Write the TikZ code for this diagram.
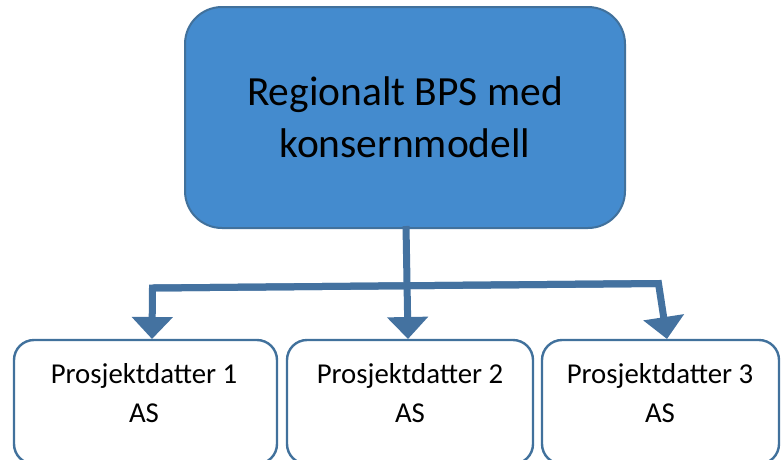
\documentclass[tikz,border=0pt]{standalone}
\usepackage{fontspec}
\setmainfont{Carlito}
\usetikzlibrary{arrows.meta}
\definecolor{headfill}{RGB}{68,139,206}
\definecolor{edgeblue}{RGB}{65,113,156}
\definecolor{linkblue}{RGB}{68,114,160}
\tikzset{
  headbox/.style={draw=edgeblue, line width=2pt, fill=headfill, rounded corners=37pt,
    inner sep=0pt, minimum width=440pt, minimum height=221pt, align=center,
    font=\fontsize{41.5}{52}\selectfont},
  childbox/.style={draw=edgeblue, line width=2.4pt, fill=white, rounded corners=20pt,
    inner sep=0pt, minimum height=124pt},
  childtext/.style={align=center, inner sep=0pt, font=\fontsize{28.8}{38.5}\selectfont},
  link/.style={draw=linkblue, line width=7pt, line join=miter},
  tip/.style={-{Triangle[width=40pt,length=22pt]}}
}
\begin{document}
\begin{tikzpicture}[x=1pt,y=-1pt]
  \useasboundingbox (0,0) rectangle (781,459);
  \clip (0,0) rectangle (781,459);
  % parent company
  \node[headbox] (top) at (405,117.5) {Regionalt BPS med\\konsernmodell};
  % subsidiaries (boxes run past the lower edge)
  \node[childbox, minimum width=263pt] (c1) at (145.5,402) {};
  \node[childbox, minimum width=246pt] (c2) at (410,402) {};
  \node[childbox, minimum width=237pt] (c3) at (660.5,402) {};
  \node[childtext] (l1) at (144,393) {Prosjektdatter 1\\AS};
  \node[childtext] (l2) at (410,393) {Prosjektdatter 2\\AS};
  \node[childtext] (l3) at (660,393) {Prosjektdatter 3\\AS};
  % connector tree
  \coordinate (stem) at (406,226);
  \coordinate (hl) at (152.5,288);
  \coordinate (hr) at (658.5,283.5);
  \coordinate (t1) at (152,339);
  \coordinate (t2) at (408,339);
  \coordinate (t3) at (667,339);
  \draw[link, tip] (hr) -- (hl) -- (t1);
  \draw[link, tip] (hl) -- (hr) -- (t3);
  \draw[link, tip] (stem) -- (t2);
\end{tikzpicture}
\end{document}
